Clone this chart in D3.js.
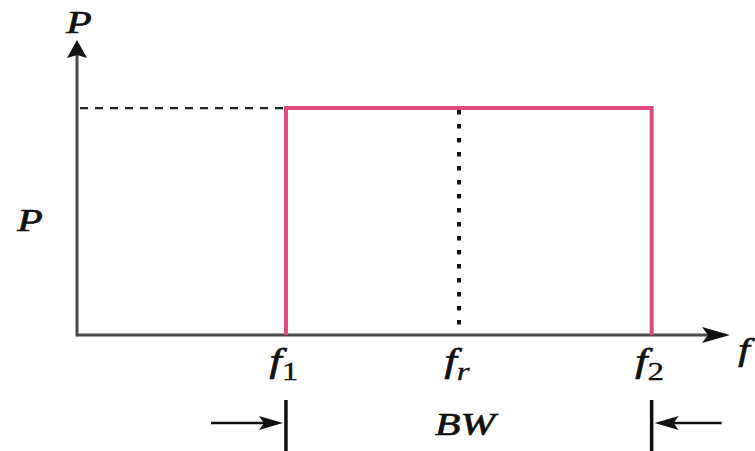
<!DOCTYPE html>
<html>
<head>
<meta charset="utf-8">
<script src="https://cdn.jsdelivr.net/npm/d3@7"></script>
<style>
  html, body { margin: 0; padding: 0; background: #fff; }
  svg { display: block; }
  text { font-family: "Times New Roman", "Liberation Serif", Times, serif; font-style: italic; fill: #111; }
</style>
</head>
<body>
<svg id="chart" width="755" height="451"></svg>
<script>
// Ideal band-pass power response: full power P between f1 and f2, centred on fr
const edgeNames = ["f1", "fr", "f2"];
const edgeFreqs = [3.2, 5.85, 8.8];
const edgeSubs = ["1", "r", "2"];
const subItalic = [false, true, false];
const powerLevel = 1;
const freqMax = 10;
const powerMax = 1.3;
const axisLabelX = "f";
const axisLabelY = "P";
const levelLabel = "P";
const bandLabel = "BW";

const W = 755, H = 451;
const svg = d3.select("#chart");

const x = d3.scaleLinear().domain([0, freqMax]).range([77, 730]);
const y = d3.scaleLinear().domain([0, powerMax]).range([335, 40]);

const axisColor = "#4a4a4a";
const pink = "#dc4a80";
const stretch = 1.3; // wide serif lettering

function serifLabel(cx, baseline, main, sub, size, subIt) {
  const g = svg.append("g")
    .attr("transform", `translate(${cx},${baseline}) scale(${stretch},1)`);
  const t = g.append("text")
    .attr("text-anchor", "middle")
    .attr("font-size", size)
    .attr("stroke", "#111").attr("stroke-width", 0.7);
  t.append("tspan").text(main);
  if (sub) {
    t.append("tspan").attr("dy", 8).attr("font-size", size * 0.75)
      .attr("font-style", subIt ? "italic" : "normal")
      .attr("stroke-width", 0.3).text(sub);
  }
  return g;
}

// Axes
svg.append("line")
  .attr("x1", x(0)).attr("x2", x(freqMax) - 14)
  .attr("y1", y(0)).attr("y2", y(0))
  .attr("stroke", axisColor).attr("stroke-width", 3);
svg.append("line")
  .attr("x1", x(0)).attr("x2", x(0))
  .attr("y1", y(0) + 1.5).attr("y2", y(powerMax) + 14)
  .attr("stroke", axisColor).attr("stroke-width", 3);

// Axis arrowheads
svg.append("path")
  .attr("d", `M${x(freqMax)},${y(0)} L${x(freqMax) - 28},${y(0) - 8} L${x(freqMax) - 22},${y(0)} L${x(freqMax) - 28},${y(0) + 8} Z`)
  .attr("fill", "#111");
svg.append("path")
  .attr("d", `M${x(0)},${y(powerMax)} L${x(0) - 10},${y(powerMax) + 18} L${x(0)},${y(powerMax) + 15} L${x(0) + 10},${y(powerMax) + 18} Z`)
  .attr("fill", "#111");

// Dashed reference from the power axis to the pass band
svg.append("line")
  .attr("x1", x(0) + 3).attr("x2", x(edgeFreqs[0]) - 2)
  .attr("y1", y(powerLevel)).attr("y2", y(powerLevel))
  .attr("stroke", "#222").attr("stroke-width", 2.2)
  .attr("stroke-dasharray", "8,7");

// Dotted centre line at fr
svg.append("line")
  .attr("x1", x(edgeFreqs[1])).attr("x2", x(edgeFreqs[1]))
  .attr("y1", y(powerLevel) + 2).attr("y2", y(0) - 3)
  .attr("stroke", "#111").attr("stroke-width", 4)
  .attr("stroke-dasharray", "4.5,9.5");

// Pass-band rectangle
const band = d3.line()
  .x(d => x(d[0])).y(d => y(d[1]));
svg.append("path")
  .attr("d", band([[edgeFreqs[0], 0], [edgeFreqs[0], powerLevel], [edgeFreqs[2], powerLevel], [edgeFreqs[2], 0]]))
  .attr("fill", "none").attr("stroke", pink).attr("stroke-width", 4)
  .attr("stroke-linejoin", "miter");

// Labels
serifLabel(x(0) + 2, 33, axisLabelY, null, 32);
serifLabel(30, 231, levelLabel, null, 32);
serifLabel(x(freqMax) + 14, 360, axisLabelX, null, 32);
edgeNames.forEach((n, i) => {
  serifLabel(x(edgeFreqs[i]) - 2, 372, n[0], edgeSubs[i], 34, subItalic[i]);
});

// Bandwidth markers
const markTop = 400, markY = 423;
[0, 2].forEach(i => {
  const bx = x(edgeFreqs[i]);
  svg.append("line")
    .attr("x1", bx).attr("x2", bx).attr("y1", markTop).attr("y2", H + 2)
    .attr("stroke", "#111").attr("stroke-width", 3.5);
  const dir = i === 0 ? 1 : -1;           // arrow points toward the bar
  const tip = bx - dir * 3;
  const tail = bx - dir * (i === 0 ? 75 : 70);
  svg.append("line")
    .attr("x1", tail).attr("x2", tip - dir * 14).attr("y1", markY).attr("y2", markY)
    .attr("stroke", "#111").attr("stroke-width", 2.5);
  svg.append("path")
    .attr("d", `M${tip},${markY} L${tip - dir * 24},${markY - 7} L${tip - dir * 19},${markY} L${tip - dir * 24},${markY + 7} Z`)
    .attr("fill", "#111");
});
serifLabel(x(edgeFreqs[1]) + 6, 435, bandLabel, null, 32);
</script>
</body>
</html>
